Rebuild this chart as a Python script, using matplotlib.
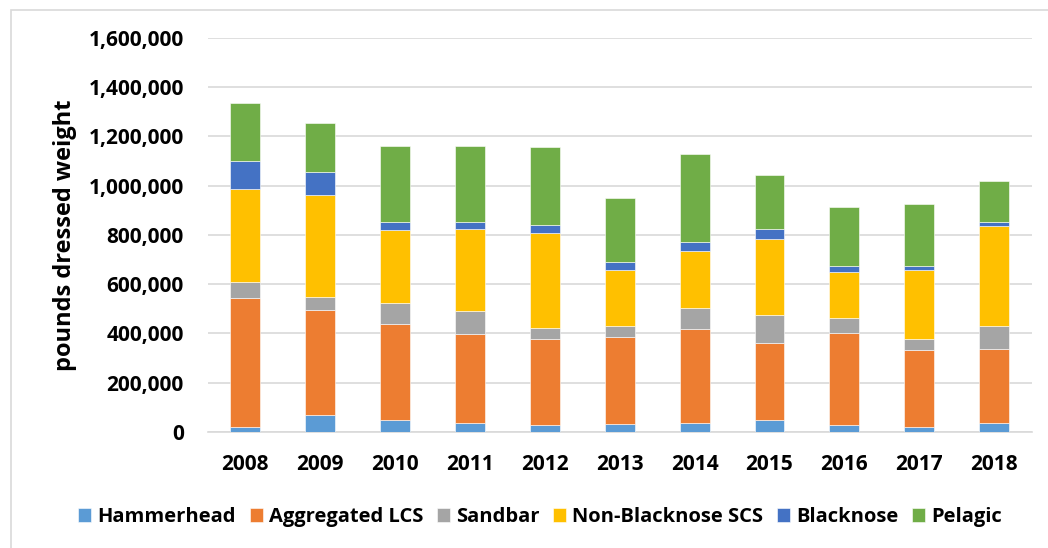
import matplotlib
matplotlib.use('Agg')
from matplotlib import pyplot as plt
from matplotlib.patches import Rectangle
from matplotlib.ticker import FuncFormatter
import numpy as np

plt.rcParams['font.family'] = ['Open Sans', 'DejaVu Sans']
plt.rcParams['font.weight'] = 'bold'

years = ['2008', '2009', '2010', '2011', '2012', '2013', '2014', '2015', '2016', '2017', '2018']
hammerhead = [19000, 67000, 50000, 35000, 27000, 34000, 37000, 49000, 30000, 20000, 38000]
aggregated_lcs = [527000, 427000, 389000, 363000, 350000, 350000, 382000, 312000, 370000, 312000, 297000]
sandbar = [62000, 54000, 83000, 94000, 46000, 47000, 83000, 113000, 63000, 46000, 97000]
non_blacknose_scs = [377000, 415000, 298000, 332000, 384000, 226000, 231000, 309000, 185000, 279000, 404000]
blacknose = [117000, 91000, 31000, 27000, 35000, 34000, 38000, 43000, 27000, 17000, 16000]
pelagic = [233000, 201000, 312000, 312000, 315000, 258000, 358000, 217000, 238000, 252000, 168000]

series = [hammerhead, aggregated_lcs, sandbar, non_blacknose_scs, blacknose, pelagic]
names = ['Hammerhead', 'Aggregated LCS', 'Sandbar', 'Non-Blacknose SCS', 'Blacknose', 'Pelagic']
colors = ['#5B9BD5', '#ED7D31', '#A5A5A5', '#FFC000', '#4472C4', '#70AD47']

fig = plt.figure(figsize=(10.48, 5.48), dpi=100)
ax = fig.add_axes([0.198, 0.2117, 0.7865, 0.719])

# chart border (only top/left visible in the original)
fig.patches.append(Rectangle((11/1048, -0.1), 1.2, 1 - 10/548 + 0.1, transform=fig.transFigure,
                             fill=False, edgecolor='#D9D9D9', linewidth=1.2, zorder=0))

x = np.arange(len(years))
bottom = np.zeros(len(years))
for vals, nm, c in zip(series, names, colors):
    ax.bar(x, vals, width=0.4, bottom=bottom, color=c, label=nm,
           edgecolor='white', linewidth=0.4, zorder=3)
    bottom += np.array(vals)

ax.set_xlim(-0.5, len(years) - 0.5)
ax.set_ylim(0, 1600000)
ax.set_yticks(np.arange(0, 1600001, 200000))
ax.yaxis.set_major_formatter(FuncFormatter(lambda v, p: f'{int(v):,}'))
ax.set_xticks(x)
ax.set_xticklabels(years)
ax.grid(axis='y', color='#D9D9D9', linewidth=1.2, zorder=0)
for s in ['top', 'right', 'left']:
    ax.spines[s].set_visible(False)
ax.spines['bottom'].set_color('#D9D9D9')
ax.spines['bottom'].set_linewidth(1.2)
ax.tick_params(axis='both', length=0, labelsize=15)
ax.tick_params(axis='y', pad=17)
ax.tick_params(axis='x', pad=16)

fig.text(65/1048, 1 - 235/548, 'pounds dressed weight', rotation=90, fontsize=17,
         fontweight='bold', ha='center', va='center')

fig.legend(loc='center', bbox_to_anchor=(540/1048, 1 - 517/548), ncol=6, frameon=False,
           fontsize=14.5, handlelength=0.65, handleheight=0.65, handletextpad=0.3,
           columnspacing=0.68)

fig.savefig('out.png', dpi=100)
